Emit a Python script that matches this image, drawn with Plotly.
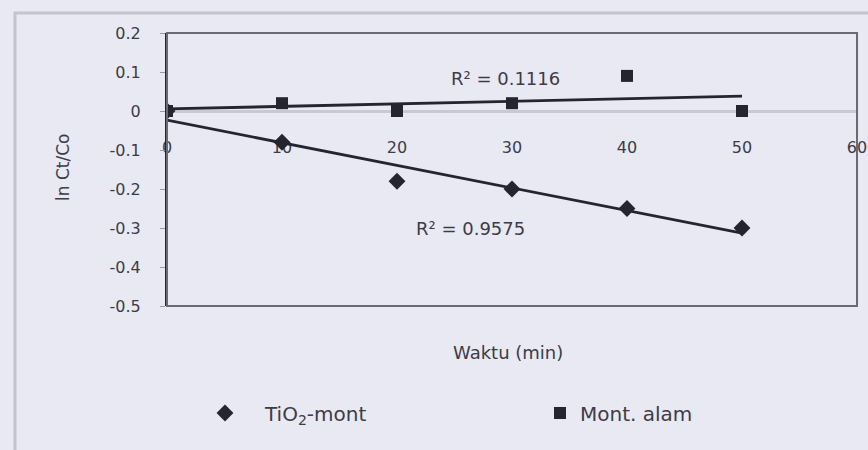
import numpy as np
import plotly.graph_objects as go

# ---- data ----
waktu = [0, 10, 20, 30, 40, 50]
tio2_mont = [0.0, -0.08, -0.18, -0.20, -0.25, -0.30]
mont_alam = [0.0, 0.02, 0.0, 0.02, 0.09, 0.0]
x_ticks = [0, 10, 20, 30, 40, 50, 60]
y_ticks = [0.2, 0.1, 0, -0.1, -0.2, -0.3, -0.4, -0.5]
r2_tio2 = "R² = 0.9575"
r2_mont = "R² = 0.1116"

BG = "#e9e9f3"
INK = "#25252f"
TXT = "#3c3c46"
FONT = "DejaVu Sans, Verdana, sans-serif"

def fit(x, y):
    k, b = np.polyfit(x, y, 1)
    xs = [min(x), max(x)]
    return xs, [k * v + b for v in xs]

fig = go.Figure()

fx, fy = fit(waktu, mont_alam)
fig.add_trace(go.Scatter(x=fx, y=fy, mode="lines", line=dict(color=INK, width=2.8),
                         showlegend=False, hoverinfo="skip"))
fx2, fy2 = fit(waktu, tio2_mont)
fig.add_trace(go.Scatter(x=fx2, y=fy2, mode="lines", line=dict(color=INK, width=2.8),
                         showlegend=False, hoverinfo="skip"))

fig.add_trace(go.Scatter(x=waktu, y=tio2_mont, mode="markers", name="TiO<sub>2</sub>-mont",
                         marker=dict(symbol="diamond", size=13, color=INK), legend="legend"))
fig.add_trace(go.Scatter(x=waktu, y=mont_alam, mode="markers", name="Mont. alam",
                         marker=dict(symbol="square", size=12, color=INK), legend="legend2"))

PW, PH = 690, 273
y0, y1 = -0.5, 0.2
fig.update_layout(
    width=868, height=450,
    margin=dict(l=167, r=11, t=33, b=144, autoexpand=False),
    paper_bgcolor=BG, plot_bgcolor=BG,
    font=dict(family=FONT, color=TXT, size=15),
    xaxis=dict(range=[0, 60], tickvals=x_ticks, ticktext=[str(v) for v in x_ticks],
               showgrid=False, zeroline=False, showline=True, linecolor="#c9c9d3", linewidth=3,
               anchor="free", position=(0 - y0) / (y1 - y0), ticks="", ticklabelstandoff=21,
               layer="below traces", automargin=False,
               tickfont=dict(size=16, color=TXT)),
    yaxis=dict(range=[y0, y1], tickvals=y_ticks, ticktext=[f"{v:g}" for v in y_ticks],
               showgrid=False, zeroline=False, showline=True, linecolor=INK, linewidth=2,
               ticks="outside", ticklen=5, tickcolor="#9a9aa5", ticklabelstandoff=16,
               automargin=False, tickfont=dict(size=16, color=TXT)),
    legend=dict(x=(185 - 167) / PW, y=(306 - 413) / PH, xanchor="left", yanchor="middle",
                bgcolor="rgba(0,0,0,0)", font=dict(size=20, color=TXT), itemwidth=70),
    legend2=dict(x=(540 - 167) / PW, y=(306 - 413) / PH, xanchor="left", yanchor="middle",
                 bgcolor="rgba(0,0,0,0)", font=dict(size=20, color=TXT), itemwidth=30),
    showlegend=True,
)

# plot-area frame
fig.add_shape(type="rect", xref="x domain", yref="y domain", x0=0, x1=1, y0=0, y1=1,
              line=dict(color="#6a6a75", width=2))
# chart-area frame (extends past the canvas on the right and bottom)
fig.add_shape(type="rect", xref="paper", yref="paper", x0=(15 - 167) / PW, x1=1.1, y0=-0.7,
              y1=1 + (33 - 13) / PH, line=dict(color="#c4c4ce", width=3))

fig.add_annotation(xref="paper", yref="paper", x=(508 - 167) / PW, y=(306 - 352) / PH,
                   xanchor="center", yanchor="middle",
                   text="Waktu (min)", showarrow=False, font=dict(size=18, color=TXT))
fig.add_annotation(xref="paper", yref="paper", x=(63 - 167) / PW, y=(306 - 168) / PH,
                   xanchor="center", yanchor="middle",
                   text="ln Ct/Co", textangle=-90, showarrow=False, font=dict(size=17, color=TXT))
fig.add_annotation(x=29.4, y=0.083, text=r2_mont, showarrow=False,
                   font=dict(size=18, color=TXT))
fig.add_annotation(x=26.4, y=-0.30, text=r2_tio2, showarrow=False,
                   font=dict(size=18, color=TXT))

fig.write_html("out.html", config={"displayModeBar": False},
               post_script="document.body.style.margin='0';document.body.style.background='%s';" % BG)
